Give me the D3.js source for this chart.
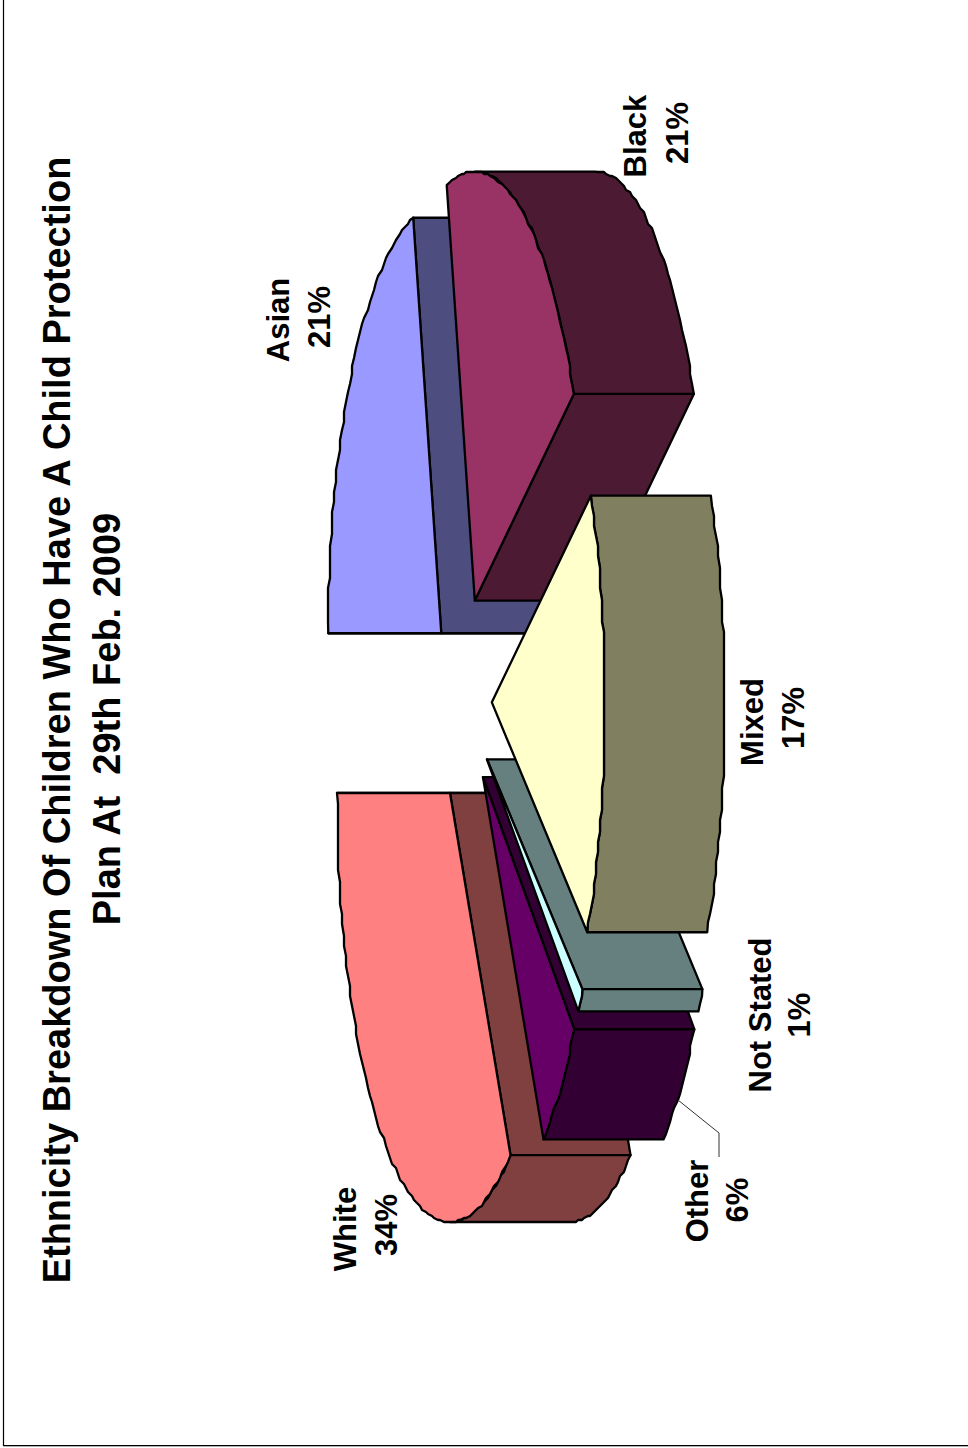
<!DOCTYPE html>
<html>
<head>
<meta charset="utf-8">
<title>Ethnicity Breakdown</title>
<script src="https://cdn.jsdelivr.net/npm/d3@7"></script>
<style>
  html, body { margin: 0; padding: 0; background: #fff; }
  svg { display: block; }
  text { font-family: "Liberation Sans", Arial, sans-serif; font-weight: bold; fill: #000; white-space: pre; }
</style>
</head>
<body>
<div id="chart"></div>
<script>
// Series, in the order they run round the pie from twelve o'clock.
const categories = ["White", "Other", "Not Stated", "Mixed", "Black", "Asian"];
const shares = [34, 6, 1, 17, 21, 21];
const titleLines = ["Ethnicity Breakdown Of Children Who Have A Child Protection", "Plan At  29th Feb. 2009"];

// Slices are painted back to front.
const paintOrder = ["Asian", "Black", "White", "Other", "Not Stated", "Mixed"];
const topColours = ["#FF8080", "#660066", "#CCFFFF", "#FFFFCC", "#993366", "#9999FF"];
const wallColours = ["#804040", "#330033", "#668080", "#808060", "#4D1A33", "#4D4D80"];

const width = 968, height = 1448;
const depth = 120, explode = 0.25, arcStep = Math.PI / 120, snap = 2;

const svg = d3.select("#chart").append("svg").attr("width", width).attr("height", height);

// Page frame, open along the top and right.
svg.append("path").attr("d", `M3.5,0V1446.5H${width}`).attr("fill", "none").attr("stroke", "#b0b0b0").attr("stroke-width", 1);
svg.append("path").attr("d", `M3.5,0V1445.5H${width}`).attr("fill", "none").attr("stroke", "#000").attr("stroke-width", 1.2);

// The whole chart lies on its side: chart x runs up the page, chart y runs across it.
const chart = svg.append("g").attr("transform", `translate(0,${height}) rotate(-90)`);

const sx = d3.scaleLinear().domain([-1, 1]).range([749 - 429, 749 + 429]);
const sy = d3.scaleLinear().domain([-1, 1]).range([463.6 - 113, 463.6 + 113]);

const pie = d3.pie().sort(null).startAngle(0).endAngle(-2 * Math.PI);
const slices = pie(shares).map((p, i) => {
  const mid = (p.startAngle + p.endAngle) / 2;
  return {
    name: categories[i],
    top: topColours[i],
    wall: wallColours[i],
    a0: p.startAngle,
    a1: p.endAngle,
    ox: explode * Math.sin(mid),
    oy: -explode * Math.cos(mid)
  };
});

const line = d3.line();
const closed = pts => line(pts) + "Z";

// Projects a point at radius r and pie angle a of a slice; z drops it down the side wall.
function project(s, a, r, z) {
  return [sx(s.ox + r * Math.sin(a)), sy(s.oy - r * Math.cos(a)) + z];
}

// Rim points are coarsened slightly, as a low-resolution metafile arc would be.
function rim(s, from, to, z) {
  const n = Math.max(1, Math.ceil(Math.abs(to - from) / arcStep));
  return d3.range(n + 1).map(k => {
    const p = project(s, from + (to - from) * k / n, 1, z);
    return (k === 0 || k === n) ? p : [Math.round(p[0] / snap) * snap, Math.round(p[1] / snap) * snap];
  });
}

const strokeStyle = sel => sel.attr("stroke", "#000").attr("stroke-width", 2.3).attr("stroke-linejoin", "round");

paintOrder.map(n => slices.find(s => s.name === n)).forEach(s => {
  const g = chart.append("g").attr("class", "slice");
  const apex = project(s, 0, 0, 0);
  const interior = project(s, (s.a0 + s.a1) / 2, 1, 0);

  // Flat cut faces: only those turned towards the viewer.
  [s.a0, s.a1].forEach(a => {
    const end = project(s, a, 1, 0);
    const ex = end[0] - apex[0], ey = end[1] - apex[1];
    const inward = (interior[0] - apex[0]) * -ey + (interior[1] - apex[1]) * ex;
    const normalY = inward > 0 ? -ex : ex;
    if (normalY >= -1e-6) {
      g.append("path")
        .attr("d", closed([apex, end, project(s, a, 1, depth), project(s, 0, 0, depth)]))
        .attr("fill", s.wall).call(strokeStyle);
    }
  });

  // Curved outer wall on the near half of the rim.
  const nearStart = Math.max(s.a1, -1.5 * Math.PI), hi = Math.min(s.a0, -0.5 * Math.PI);
  if (hi > nearStart) {
    const upper = rim(s, hi, nearStart, 0);
    const lower = rim(s, nearStart, hi, depth);
    g.append("path").attr("d", closed(upper.concat(lower))).attr("fill", s.wall).call(strokeStyle);
  }

  // Top face.
  g.append("path")
    .attr("d", closed([apex].concat(rim(s, s.a0, s.a1, 0))))
    .attr("fill", s.top).call(strokeStyle);
});

// Leader from the Other label to its slice.
const leaderPoints = [[348, 678], [315, 719], [291, 719]];
chart.append("path").attr("d", line(leaderPoints)).attr("fill", "none").attr("stroke", "#333").attr("stroke-width", 1);

// Title.
const titleCentres = [728, 729];
const titleBaselines = [70, 120];
const titleSizes = [38, 38];
const titleSpacing = [0, 0];
titleLines.forEach((t, i) => {
  chart.append("text").attr("x", titleCentres[i]).attr("y", titleBaselines[i]).attr("text-anchor", "middle")
    .attr("font-size", titleSizes[i]).attr("letter-spacing", titleSpacing[i]).text(t);
});

// Slice labels: name on one line, share beneath it.
const labelCentres = [[219, 223], [247, 248], [433, 433], [726, 730], [1312, 1315], [1128, 1131]];
const labelBaselines = [[356, 397], [708, 748], [771, 810], [763, 804], [646, 688], [289, 330]];
categories.forEach((c, i) => {
  const lab = chart.append("g").attr("class", "label").attr("font-size", 31);
  lab.append("text").attr("x", labelCentres[i][0]).attr("y", labelBaselines[i][0]).attr("text-anchor", "middle").text(c);
  lab.append("text").attr("x", labelCentres[i][1]).attr("y", labelBaselines[i][1]).attr("text-anchor", "middle").text(shares[i] + "%");
});
</script>
</body>
</html>
